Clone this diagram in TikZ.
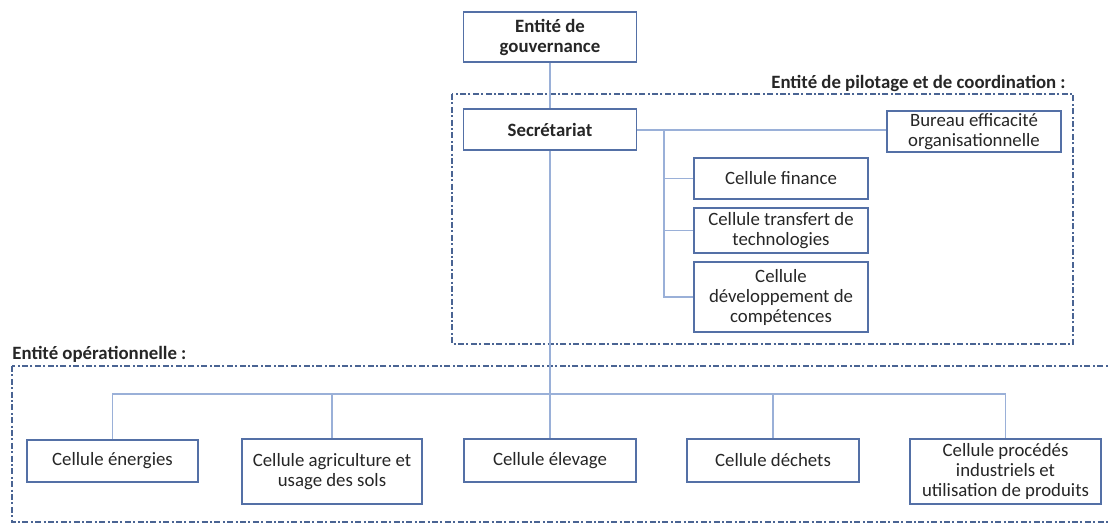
\documentclass[tikz,border=0pt]{standalone}
\usepackage{fontspec}
\setmainfont{Carlito}
\definecolor{boxc}{HTML}{5470A6}
\definecolor{linec}{HTML}{9AB0D8}
\definecolor{dashc}{HTML}{4A6493}
\definecolor{txt}{HTML}{262626}
\begin{document}
\begin{tikzpicture}[x=0.5pt,y=-0.5pt,
  box/.style={draw=boxc, line width=0.8pt, fill=white, inner sep=0pt, align=center,
    font=\fontsize{9.4}{10}\selectfont, text=txt},
  conn/.style={draw=linec, line width=0.7pt},
  entity/.style={draw=dashc, line width=0.8pt, dash pattern=on 3pt off 1.2pt on 1pt off 1.2pt},
  lbl/.style={inner sep=0pt, font=\fontsize{9.4}{10}\selectfont\bfseries, text=txt}]
\useasboundingbox (0,0) rectangle (1108,523);
% entity frames
\draw[entity] (452,94) rectangle (1073,344);
\draw[entity] (12,366) rectangle (1112,522);
\node[lbl, anchor=east] (lpil) at (1066,83) {Entité de pilotage et de coordination :};
\node[lbl, anchor=west] (lop) at (12,354) {Entité opérationnelle :};
% boxes
\node[box, font=\fontsize{9.4}{10}\selectfont\bfseries, minimum width=86.5pt, minimum height=25pt] (gov) at (550,37) {Entité de\\gouvernance};
\node[box, font=\fontsize{9.4}{10}\selectfont\bfseries, minimum width=86.5pt, minimum height=20.5pt] (sec) at (550,129.5) {Secrétariat};
\node[box, minimum width=87pt, minimum height=20.5pt] (bur) at (974,131.5) {Bureau efficacité\\organisationnelle};
\node[box, minimum width=87pt, minimum height=20.5pt] (fin) at (781,178.5) {Cellule finance};
\node[box, minimum width=87pt, minimum height=22.5pt] (tra) at (781,230.5) {Cellule transfert de\\technologies};
\node[box, minimum width=87pt, minimum height=35pt] (dev) at (781,297) {Cellule\\développement de\\compétences};
\node[box, minimum width=85.5pt, minimum height=21pt] (ene) at (112.5,461) {Cellule énergies};
\node[box, minimum width=90pt, minimum height=32.5pt] (agr) at (332,471.5) {Cellule agriculture et\\usage des sols};
\node[box, minimum width=86pt, minimum height=21.5pt] (ele) at (550,460.5) {Cellule élevage};
\node[box, minimum width=86pt, minimum height=21.5pt] (dec) at (773,460.5) {Cellule déchets};
\node[box, minimum width=95.5pt, minimum height=32.5pt] (pro) at (1005.5,471.5) {Cellule procédés\\industriels et\\utilisation de produits};
% connectors
\coordinate (br) at (664,130);
\coordinate (busy) at (0,394);
\draw[conn] (gov.south) -- (sec.north);
\draw[conn] (sec.south) -- (ele.north);
\draw[conn] (sec.east |- br) -- (bur.west |- br);
\draw[conn] (br) |- (fin.west);
\draw[conn] (br) |- (tra.west);
\draw[conn] (br) |- (dev.west);
\draw[conn] (ene.north) -- (ene.north |- busy) -- (pro.north |- busy) -- (pro.north);
\draw[conn] (agr.north) -- (agr.north |- busy);
\draw[conn] (dec.north) -- (dec.north |- busy);
\end{tikzpicture}
\end{document}
